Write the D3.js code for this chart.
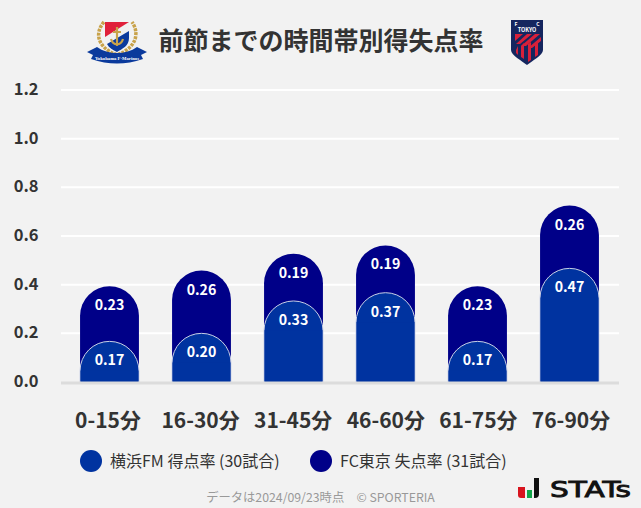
<!DOCTYPE html>
<html><head><meta charset="utf-8">
<script src="https://cdn.jsdelivr.net/npm/d3@7"></script>
<style>
html,body{margin:0;padding:0;background:#f2f2f2;}
svg{display:block;}
text{font-family:"Noto Sans CJK JP","Noto Sans",sans-serif;}
</style></head><body>
<svg id="c" width="641" height="508"></svg>
<script>
const categories=["0-15分","16-30分","31-45分","46-60分","61-75分","76-90分"];
const teamFor=[0.167,0.200,0.333,0.367,0.167,0.467];
const teamAgainst=[0.226,0.258,0.194,0.194,0.226,0.258];
const yTicks=[0,0.2,0.4,0.6,0.8,1.0,1.2];
const titleText="前節までの時間帯別得失点率";
const legendFor="横浜FM 得点率 (30試合)";
const legendAgainst="FC東京 失点率 (31試合)";
const footer="データは2024/09/23時点　© SPORTERIA";
const colorFor="#0033a0", colorAgainst="#000088";

const svg=d3.select("#c");
const x=d3.scaleBand().domain(categories).range([63.5,615.5]).paddingInner(0.36).paddingOuter(0.18);
const xLabel=d3.scalePoint().domain(categories).range([108,571]);
const y=d3.scaleLinear().domain([0,1.2]).range([382,90]);
const L=61, R=619;

svg.append("g").selectAll("line").data(yTicks.slice(1)).join("line")
  .attr("x1",L).attr("x2",R).attr("y1",d=>y(d)).attr("y2",d=>y(d))
  .attr("stroke","#fff").attr("stroke-width",2);
svg.append("g").selectAll("text").data(yTicks).join("text")
  .attr("x",38.5).attr("y",d=>y(d)+5).attr("text-anchor","end")
  .attr("font-size",16.5).attr("font-weight",700).attr("fill","#333")
  .text(d=>d.toFixed(1));

function pill(cx,top,bottom,r){
  const a=cx-r,b=cx+r;
  return `M${a},${bottom}V${top+r}A${r},${r} 0 0 1 ${b},${top+r}V${bottom}Z`;
}
const cx=c=>x(c)+x.bandwidth()/2;
const rad=x.bandwidth()/2;

svg.append("g").selectAll("path").data(categories).join("path")
  .attr("d",(c,i)=>pill(cx(c),y(teamFor[i]+teamAgainst[i]),y(0),rad))
  .attr("fill",colorAgainst);
svg.append("g").selectAll("path").data(categories).join("path")
  .attr("d",(c,i)=>pill(cx(c),y(teamFor[i]),y(0),rad))
  .attr("fill",colorFor).attr("stroke","#c9d0e6").attr("stroke-width",1);
svg.append("g").selectAll("rect").data(categories).join("rect")
  .attr("x",c=>cx(c)-rad+0.5)
  .attr("y",(c,i)=>Math.min(y(0),y(teamFor[i])+rad))
  .attr("width",rad*2-1).attr("height",(c,i)=>Math.max(0,y(0)-(y(teamFor[i])+rad)))
  .attr("fill",colorFor);
svg.append("line").attr("x1",L).attr("x2",R).attr("y1",y(0)+1).attr("y2",y(0)+1)
  .attr("stroke","#dcdcdc").attr("stroke-width",3);

const lab=(vals,yf)=>svg.append("g").selectAll("text").data(categories).join("text")
  .attr("x",c=>cx(c)).attr("y",(c,i)=>yf(i)).attr("text-anchor","middle")
  .attr("font-size",14.2).attr("font-weight",700).attr("fill","#fff")
  .text((c,i)=>vals[i].toFixed(2));
lab(teamFor,i=>y(teamFor[i])+24);
lab(teamAgainst,i=>y(teamFor[i]+teamAgainst[i])+24);

svg.append("g").selectAll("text").data(categories).join("text")
  .attr("x",c=>xLabel(c)).attr("y",428).attr("text-anchor","middle")
  .attr("font-size",21).attr("font-weight",700).attr("fill","#333").text(c=>c);

svg.append("text").attr("x",321).attr("y",49.5).attr("text-anchor","middle")
  .attr("font-size",25).attr("font-weight",700).attr("fill","#333").text(titleText);

svg.append("circle").attr("cx",91).attr("cy",461).attr("r",11).attr("fill",colorFor);
svg.append("text").attr("x",110).attr("y",467).attr("font-size",16).attr("fill","#333").text(legendFor);
svg.append("circle").attr("cx",321).attr("cy",461).attr("r",11).attr("fill",colorAgainst);
svg.append("text").attr("x",340).attr("y",467).attr("font-size",16).attr("fill","#333").text(legendAgainst);

svg.append("text").attr("x",320.5).attr("y",502).attr("text-anchor","middle")
  .attr("font-size",12.3).attr("fill","#999").text(footer);

// Marinos emblem
const m=svg.append("g");
m.append("path").attr("d","M104,22C95,32 96,47 117,55C138,47 139,32 132,22").attr("fill","none").attr("stroke","#c8a24a").attr("stroke-width",3.5).attr("stroke-dasharray","3 1");
m.append("path").attr("d","M105,22H129V38C129,46 122,49 117,52C112,49 105,46 105,38Z").attr("fill","#f0f0f0");
m.append("path").attr("d","M105,22H129L105,37Z").attr("fill","#e0203a");
m.append("path").attr("d","M129,31V38C129,46 122,49 117,52C113,50 109,48 107,44Z").attr("fill","#0b3a9c");
m.append("path").attr("d","M117,27V46M111,39C113,46 121,46 123,39M113,32H121").attr("fill","none").attr("stroke","#c8a24a").attr("stroke-width",2.2);
m.append("path").attr("d","M87,52L97,47C108,55 126,55 137,47L147,52L141,55L143,59C125,65 109,65 91,59L93,55Z").attr("fill","#0b3a9c");
m.append("text").attr("x",117).attr("y",60).attr("text-anchor","middle").attr("font-size",5).attr("font-weight",700).attr("fill","#fff").attr("textLength",44).attr("lengthAdjust","spacingAndGlyphs").style("font-family","Liberation Serif").text("Yokohama F·Marinos");

// FC Tokyo emblem
const t=svg.append("g");
t.append("path").attr("d","M511,20H543V50C543,55 532,61 527,65C522,61 511,55 511,50Z").attr("fill","#15265f");
t.append("path").attr("d","M515,34L523,34L515,41Z M527,34H532L520,44H516Z M535,34H540L526,46H521Z M541,37V41L532,48H528Z").attr("fill","#d8203a");
t.append("path").attr("d","M516,50L518,46V55L516,53Z M521,46L524,43V59L521,57Z M528,44L531,42V60L528,62Z M535,44L538,42V55L535,57Z").attr("fill","#d8203a");
t.append("text").attr("x",527).attr("y",31.5).attr("text-anchor","middle").attr("font-size",5.5).attr("font-weight",700).attr("fill","#fff").text("TOKYO");
t.append("text").attr("x",516).attr("y",25.5).attr("text-anchor","middle").attr("font-size",5).attr("font-weight",700).attr("fill","#fff").text("F");
t.append("text").attr("x",538).attr("y",25.5).attr("text-anchor","middle").attr("font-size",5).attr("font-weight",700).attr("fill","#fff").text("C");

// STATS logo
const s=svg.append("g");
s.append("path").attr("d","M518,487H525V498H521Q518,498 518,495Z").attr("fill","#d8141e");
s.append("rect").attr("x",527).attr("y",490).attr("width",5).attr("height",8).attr("fill","#12a64a");
s.append("path").attr("d","M534,478H539V494Q539,498 535,498H534Z").attr("fill","#111");
s.append("text").attr("x",550).attr("y",497).attr("font-size",22).attr("fill","#111").attr("stroke","#111").attr("stroke-width",0.9).attr("textLength",81).attr("lengthAdjust","spacingAndGlyphs").style("font-family","DejaVu Sans").text("STATs");
</script>
</body></html>
